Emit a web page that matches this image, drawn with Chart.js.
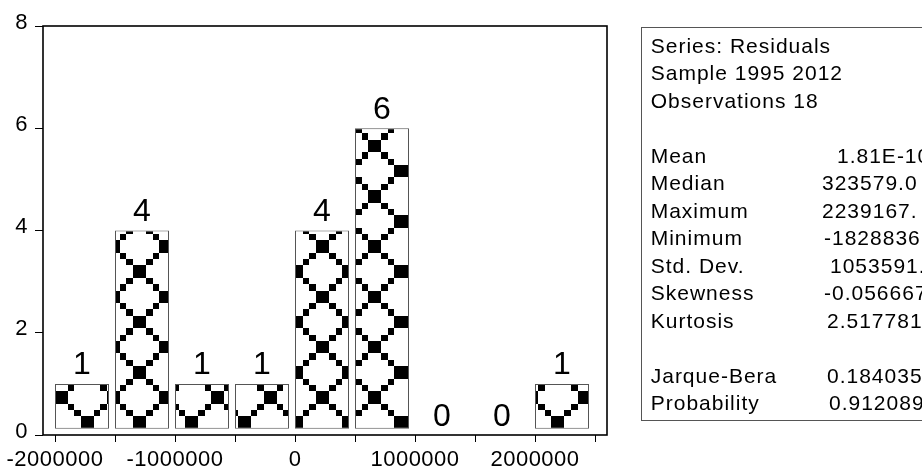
<!DOCTYPE html>
<html><head><meta charset="utf-8">
<script src="https://cdn.jsdelivr.net/npm/chart.js@4.4.1/dist/chart.umd.min.js"></script>
<style>html,body{margin:0;padding:0;background:#fff;overflow:hidden}#wrap{position:relative;width:922px;height:470px}</style>
</head><body><div id="wrap"><canvas id="c" width="922" height="470"></canvas></div>
<script>
// ---- data ----
const binStarts = [-2000000,-1500000,-1000000,-500000,0,500000,1000000,1500000,2000000];
const binWidth = 500000;
const counts = [1,4,1,1,4,6,0,0,1];
const yTickValues = [0,2,4,6,8];
const yTickLabels = ['0','2','4','6','8'];
const xTickValues = [-2000000,-1500000,-1000000,-500000,0,500000,1000000,1500000,2000000,2500000];
const xTickLabels = ['-2000000','','-1000000','','0','','1000000','','2000000',''];
const statHeader = ['Series: Residuals','Sample 1995 2012','Observations 18'];
const statNames = ['Mean','Median','Maximum','Minimum','Std. Dev.','Skewness','Kurtosis','Jarque-Bera','Probability'];
const statValues = ['1.81E-10','323579.0','2239167.','-1828836.','1053591.','-0.056667','2.517781','0.184035','0.912089'];

// ---- styles ----
const FONT = '"Liberation Sans", Arial, sans-serif';
const BAR_PCT = 0.9;
const BAR_BASE = 0.12;
const TILE_W = 52.3, TILE_H = 50.3;
const PAT_DX = -5.5;
const statValueX = [837,822,822,824,830,824,827,827,829];
const statRowIndex = [4,5,6,7,8,9,10,12,13];

const canvas = document.getElementById('c');
const ctx0 = canvas.getContext('2d');
function makeTile(){
  const t = document.createElement('canvas'); t.width = 8; t.height = 8;
  const g = t.getContext('2d');
  g.fillStyle = '#fff'; g.fillRect(0,0,8,8); g.fillStyle = '#000';
  const rows = [[0,7],[1,6],[2,5],[3,4],[3,4],[2,5],[1,6],[0,7]];
  rows.forEach((cols,r)=>cols.forEach(c=>g.fillRect(c,r,1,1)));
  return t;
}
const pattern = ctx0.createPattern(makeTile(),'repeat');

const drawPlugin = {
  id:'draw',
  beforeDraw(chart){ chart.ctx.letterSpacing = '0.5px'; },
  beforeDatasetsDraw(chart){
    const ctx = chart.ctx, xs = chart.scales.x, ys = chart.scales.y;
    const binPx = xs.getPixelForValue(binWidth) - xs.getPixelForValue(0);
    const shift = -binPx*(1-BAR_PCT)/2;
    chart.$shift = shift;
    const sx = TILE_W/8, sy = TILE_H/8;
    const ax = xs.getPixelForValue(binStarts[1]+binWidth/2) + PAT_DX;
    const ay = ys.getPixelForValue(BAR_BASE) - sy;
    pattern.setTransform(new DOMMatrix([sx,0,0,sy, ax - shift - 4*sx, ay - 4*sy]));
    ctx.save(); ctx.imageSmoothingEnabled = false; ctx.translate(shift,0);
  },
  afterDatasetsDraw(chart){
    const ctx = chart.ctx; ctx.restore();
    const ys = chart.scales.y, meta = chart.getDatasetMeta(0);
    ctx.save();
    ctx.fillStyle = '#000'; ctx.font = '32px ' + FONT; ctx.letterSpacing = '0px';
    ctx.textAlign = 'center'; ctx.textBaseline = 'alphabetic';
    meta.data.forEach((el,i)=>{
      ctx.fillText(String(counts[i]), el.x + chart.$shift, ys.getPixelForValue(counts[i]) - 9.5);
    });
    ctx.restore();
  },
  afterDraw(chart){
    const ctx = chart.ctx, ca = chart.chartArea;
    ctx.save();
    ctx.strokeStyle = '#000'; ctx.lineWidth = 1.6;
    ctx.strokeRect(ca.left, ca.top, ca.right-ca.left, ca.bottom-ca.top);
    // statistics box
    ctx.strokeStyle = '#555'; ctx.lineWidth = 1;
    ctx.strokeRect(641.5, 27.5, 400, 393);
    ctx.fillStyle = '#000'; ctx.font = '21px ' + FONT; ctx.letterSpacing = '1px';
    ctx.textAlign = 'left'; ctx.textBaseline = 'alphabetic';
    const by = k => 52.7 + 27.5*k;
    statHeader.forEach((s,k)=>ctx.fillText(s, 650.7, by(k)));
    statNames.forEach((s,i)=>{
      ctx.fillText(s, 650.7, by(statRowIndex[i]));
      ctx.fillText(statValues[i], statValueX[i], by(statRowIndex[i]));
    });
    ctx.restore();
  }
};

new Chart(canvas, {
  type:'bar',
  data:{ datasets:[{
    data: binStarts.map((s,i)=>({x:s+binWidth/2, y:counts[i]})),
    backgroundColor: c => (c.raw && c.raw.y>0) ? pattern : 'rgba(0,0,0,0)',
    borderColor: c => (c.raw && c.raw.y>0) ? '#555' : 'rgba(0,0,0,0)',
    borderWidth: 1, borderSkipped: false, base: BAR_BASE,
    barPercentage: BAR_PCT, categoryPercentage: 1
  }]},
  options:{
    responsive:false, animation:false, events:[],
    layout:{padding:{top:26,right:315,left:0,bottom:0}},
    plugins:{legend:{display:false}, tooltip:{enabled:false}},
    scales:{
      x:{type:'linear', min:-2100000, max:2600000, offset:false,
        afterBuildTicks: a=>{ a.ticks = xTickValues.map(v=>({value:v})); },
        afterFit: s=>{ s.height = 35; },
        ticks:{autoSkip:false, maxRotation:0, minRotation:0, callback:(v,i)=>xTickLabels[i], color:'#000', font:{family:FONT, size:22}, padding:5},
        grid:{offset:false, drawOnChartArea:false, drawTicks:true, tickLength:7, color:'#000', lineWidth:1},
        border:{display:false}},
      y:{min:0, max:8,
        afterBuildTicks: a=>{ a.ticks = yTickValues.map(v=>({value:v})); },
        afterFit: s=>{ s.width = 43; },
        ticks:{callback:(v,i)=>yTickLabels[i], color:'#000', font:{family:FONT, size:22}, padding:7, labelOffset:-3.5},
        grid:{drawOnChartArea:false, drawTicks:true, tickLength:8, color:'#000', lineWidth:1},
        border:{display:false}}
    }
  },
  plugins:[drawPlugin]
});
</script></body></html>
